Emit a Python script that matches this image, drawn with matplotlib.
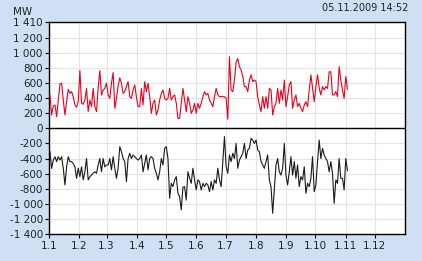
import matplotlib
matplotlib.use("Agg")
import matplotlib.pyplot as plt
import numpy as np
import pandas as pd

# ---- data ----
title_unit = "MW"
timestamp = "05.11.2009 14:52"

red_values = [
    443, 178, 297, 310, 155, 376, 588, 600, 376, 178, 354, 518, 465, 487, 420, 310, 280, 354,
    765, 332, 320, 376, 530, 222, 376, 288, 530, 288, 222, 543, 765, 443, 509, 530, 600, 443,
    398, 600, 740, 266, 398, 560, 670, 600, 465, 487, 555, 620, 420, 398, 509, 575, 420, 288,
    288, 530, 310, 620, 487, 598, 420, 200, 332, 376, 178, 244, 376, 465, 509, 398, 376, 398,
    530, 376, 420, 443, 332, 133, 133, 332, 530, 376, 222, 420, 332, 200, 244, 332, 200, 332,
    266, 332, 420, 487, 443, 465, 376, 332, 288, 420, 530, 443, 420, 420, 420, 420, 398, 120,
    950, 509, 487, 640, 880, 925, 818, 775, 687, 553, 553, 487, 640, 710, 620, 640, 620, 420,
    310, 222, 420, 266, 420, 266, 530, 509, 178, 288, 332, 530,
    332, 509, 376, 640, 288, 420, 575, 620, 266, 376, 443, 288, 332, 266, 222, 310, 354, 288,
    509, 710, 530, 354, 553, 710, 530, 443, 553, 509, 553, 530, 750, 750, 443, 443, 487, 420,
    818, 640, 509, 398, 687, 520,
]

black_values = [
    -308, -529, -420, -375, -440, -375, -420, -375, -529, -750, -510, -375, -440, -440, -465,
    -510, -661, -529, -640, -510, -683, -575, -400, -683, -640, -620, -595, -575, -595, -485,
    -400, -575, -400, -510, -485, -485, -400, -550, -375, -529, -661, -529, -242, -308, -400,
    -440, -705, -400, -330, -400, -353, -375, -400, -420,
    -400, -353, -575, -465, -353, -550, -400, -375, -400, -529, -595, -683, -575, -400, -485,
    -265, -242, -400, -927, -728, -772, -683, -640, -860, -905, -1080, -780, -772, -950, -575,
    -661, -728, -529, -683, -816, -683, -705, -816, -728, -772, -728, -750, -838, -705, -816,
    -683, -728, -529, -683, -772, -440, -110, -510, -595, -353, -440, -330, -400, -200, -529,
    -420, -375, -330, -200, -400, -287, -265, -133, -155, -200, -155, -287, -308, -440, -485,
    -529, -440, -353, -683, -772, -1125, -794, -485, -400,
    -575, -620, -529, -200, -620, -750, -575, -375, -620, -440, -661, -485, -772, -640, -683,
    -510, -860, -728, -772, -661, -375, -838, -750, -440, -155, -400, -265, -353, -400, -440,
    -575, -440, -595, -993, -683, -728, -400, -661, -661, -816, -400, -560,
]

start_date = "2009-01-02"
end_date = "2009-11-03"

x_tick_dates = ["2009-01-01", "2009-02-01", "2009-03-01", "2009-04-01", "2009-05-01",
                "2009-06-01", "2009-07-01", "2009-08-01", "2009-09-01", "2009-10-01",
                "2009-11-01", "2009-12-01"]
x_tick_labels = ["1.1", "1.2", "1.3", "1.4", "1.5", "1.6", "1.7", "1.8", "1.9",
                 "1.10", "1.11", "1.12"]
y_ticks = [1410, 1200, 1000, 800, 600, 400, 200, 0, -200, -400, -600, -800,
           -1000, -1200, -1400]
y_tick_labels = ["1 410", "1 200", "1 000", "800", "600", "400", "200", "0", "-200",
                 "-400", "-600", "-800", "-1 000", "-1 200", "-1 400"]

# ---- figure ----
bg = "#cfe0f4"
fig = plt.figure(figsize=(4.22, 2.61), dpi=100, facecolor=bg)
ax = fig.add_axes([49 / 422, 1 - 234 / 261, (405 - 49) / 422, (234 - 22) / 261])
ax.set_facecolor("white")

dates = pd.date_range(start_date, end_date, periods=len(red_values))

ax.plot(dates, red_values, color="#e8001c", lw=0.8, zorder=3)
ax.plot(dates, black_values, color="#1a1a1a", lw=0.8, zorder=3)
ax.axhline(0, color="black", lw=1.0, zorder=4)

ax.set_xlim(pd.Timestamp("2009-01-01"), pd.Timestamp("2010-01-01"))
ax.set_ylim(-1400, 1410)

tick_pos = pd.to_datetime(x_tick_dates)
ax.set_xticks(tick_pos)
ax.set_xticklabels(x_tick_labels)
ax.set_yticks(y_ticks)
ax.set_yticklabels(y_tick_labels)

ax.grid(True, color="#e4e4e4", lw=0.8, zorder=0)
ax.set_axisbelow(True)
for s in ax.spines.values():
    s.set_color("black")
    s.set_linewidth(1.0)

ax.tick_params(axis="both", direction="out", length=3, width=0.8, colors="black",
               labelsize=7.5, pad=1.5)
ax.tick_params(axis="x", pad=2)
for lbl in ax.get_xticklabels() + ax.get_yticklabels():
    lbl.set_color("#222222")

fig.text(13 / 422, 1 - 12 / 261, title_unit, fontsize=7.5, va="center", ha="left",
         color="#222222")
fig.text(408 / 422, 1 - 8 / 261, timestamp, fontsize=7, va="center", ha="right",
         color="#222222")

fig.savefig("out.png", dpi=100, facecolor=bg)
